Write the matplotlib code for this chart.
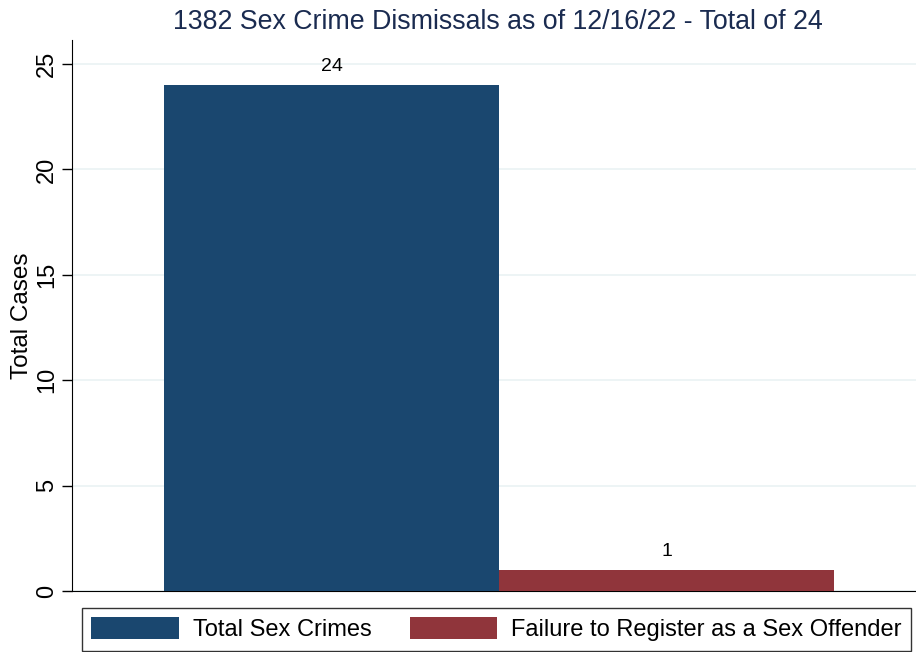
import matplotlib.pyplot as plt

# Data
categories = ['Total Sex Crimes', 'Failure to Register as a Sex Offender']
cases = [24, 1]
colors = ['#1a476f', '#90353b']
yticks = [0, 5, 10, 15, 20, 25]

plt.rcParams['font.family'] = ['Liberation Sans', 'DejaVu Sans']

fig = plt.figure(figsize=(9.16, 6.52), dpi=100)
ax = fig.add_axes([0.0786, 0.0936, 0.9214, 0.8451])

# one bar per category, side by side
bars = []
for i, (cat, val) in enumerate(zip(categories, cases)):
    b = ax.bar(i, val, width=1.0, color=colors[i], label=cat, zorder=3)
    ax.bar_label(b, labels=[str(val)], padding=7, fontsize=14)
    bars.append(b)

ax.set_xlim(-0.775, 1.745)
ax.set_ylim(0, 26.14)
ax.set_yticks(yticks)
ax.set_xticks([])
ax.tick_params(axis='y', labelsize=17, labelrotation=90, length=7, width=1, pad=3)
for lab in ax.get_yticklabels():
    lab.set_verticalalignment('center')
ax.grid(axis='y', color='#eaf2f3', linewidth=1.2, zorder=0)
ax.spines['top'].set_visible(False)
ax.spines['right'].set_visible(False)
ax.set_ylabel('Total Cases', fontsize=17.5, labelpad=2)

fig.text(0.544, 0.967, '1382 Sex Crime Dismissals as of 12/16/22 - Total of 24',
         ha='center', va='center', fontsize=19.3, color='#1a2b50')

leg = fig.legend(handles=[b[0] for b in bars], labels=categories,
                 loc='lower left', bbox_to_anchor=(82 / 916, 1.5 / 652),
                 ncol=2, fontsize=17, frameon=True, fancybox=False,
                 handlelength=3.7, handleheight=1.05, handletextpad=0.6,
                 columnspacing=1.6, borderpad=0.4, borderaxespad=0,
                 edgecolor='black')
leg.get_frame().set_linewidth(1)

fig.savefig('out.png', dpi=100)
